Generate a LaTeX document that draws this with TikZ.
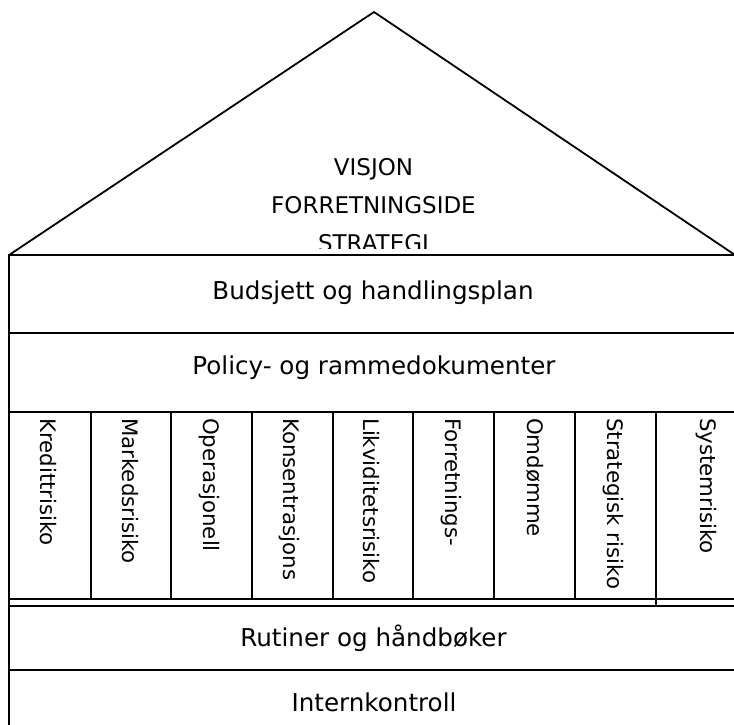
\documentclass[tikz,border=0pt]{standalone}
\usepackage{fontspec}
\setmainfont{DejaVu Sans}
\begin{document}
\begin{tikzpicture}[x=1pt,y=-1pt,
  band/.style={draw=black,line width=2.6pt},
  divider/.style={draw=black,line width=2.3pt},
  roof/.style={draw=black,line width=1.8pt},
  bandtext/.style={font=\fontsize{24.6}{29}\selectfont,anchor=base,inner sep=0pt},
  titletext/.style={font=\fontsize{23}{28}\selectfont,anchor=base,inner sep=0pt},
  risk/.style={font=\fontsize{21.3}{25}\selectfont,rotate=-90,anchor=base west,inner sep=0pt}]
\useasboundingbox (0,0) rectangle (734,724);
% roof
\coordinate (rl) at (9,255);
\coordinate (apex) at (374,12);
\coordinate (rr) at (738,257);
\draw[roof] (rl) -- (apex) -- (rr);
% title text (clipped at the bottom)
\begin{scope}
\clip (0,0) rectangle (734,248);
\node[titletext] (t1) at (373.5,175) {VISJON};
\node[titletext] (t2) at (373.5,213) {FORRETNINGSIDE};
\node[titletext] (t3) at (373.5,251) {STRATEGI};
\end{scope}
% bands
\draw[band] (9,255) rectangle (745,333);
\draw[band] (9,333) rectangle (745,412);
\node[bandtext] (b1) at (373,299.3) {Budsjett og handlingsplan};
\node[bandtext] (b2) at (374,374) {Policy- og rammedokumenter};
% columns
\draw[band] (9,412) rectangle (745,599);
\foreach \x in {91,171,252,333,413,494,575}
  \draw[divider] (\x,412) -- (\x,599);
\draw[divider] (656,412) -- (656,606);
\node[risk] (r1) at (40,418) {Kredittrisiko};
\node[risk] (r2) at (122,418) {Markedsrisiko};
\node[risk] (r3) at (203,418) {Operasjonell};
\node[risk] (r4) at (283,418) {Konsentrasjons};
\node[risk] (r5) at (363,418) {Likviditetsrisiko};
\node[risk] (r6) at (445,418) {Forretnings-};
\node[risk] (r7) at (527,418) {Omdømme};
\node[risk] (r8) at (607,418) {Strategisk risiko};
\node[risk] (r9) at (700,418) {Systemrisiko};
% lower bands
\draw[band] (9,599) -- (9,606);
\draw[band] (9,606) rectangle (745,670);
\draw[band] (9,670) rectangle (745,740);
\node[bandtext] (b3) at (373.5,646.7) {Rutiner og håndbøker};
\node[bandtext] (b4) at (374,711) {Internkontroll};
\end{tikzpicture}
\end{document}
